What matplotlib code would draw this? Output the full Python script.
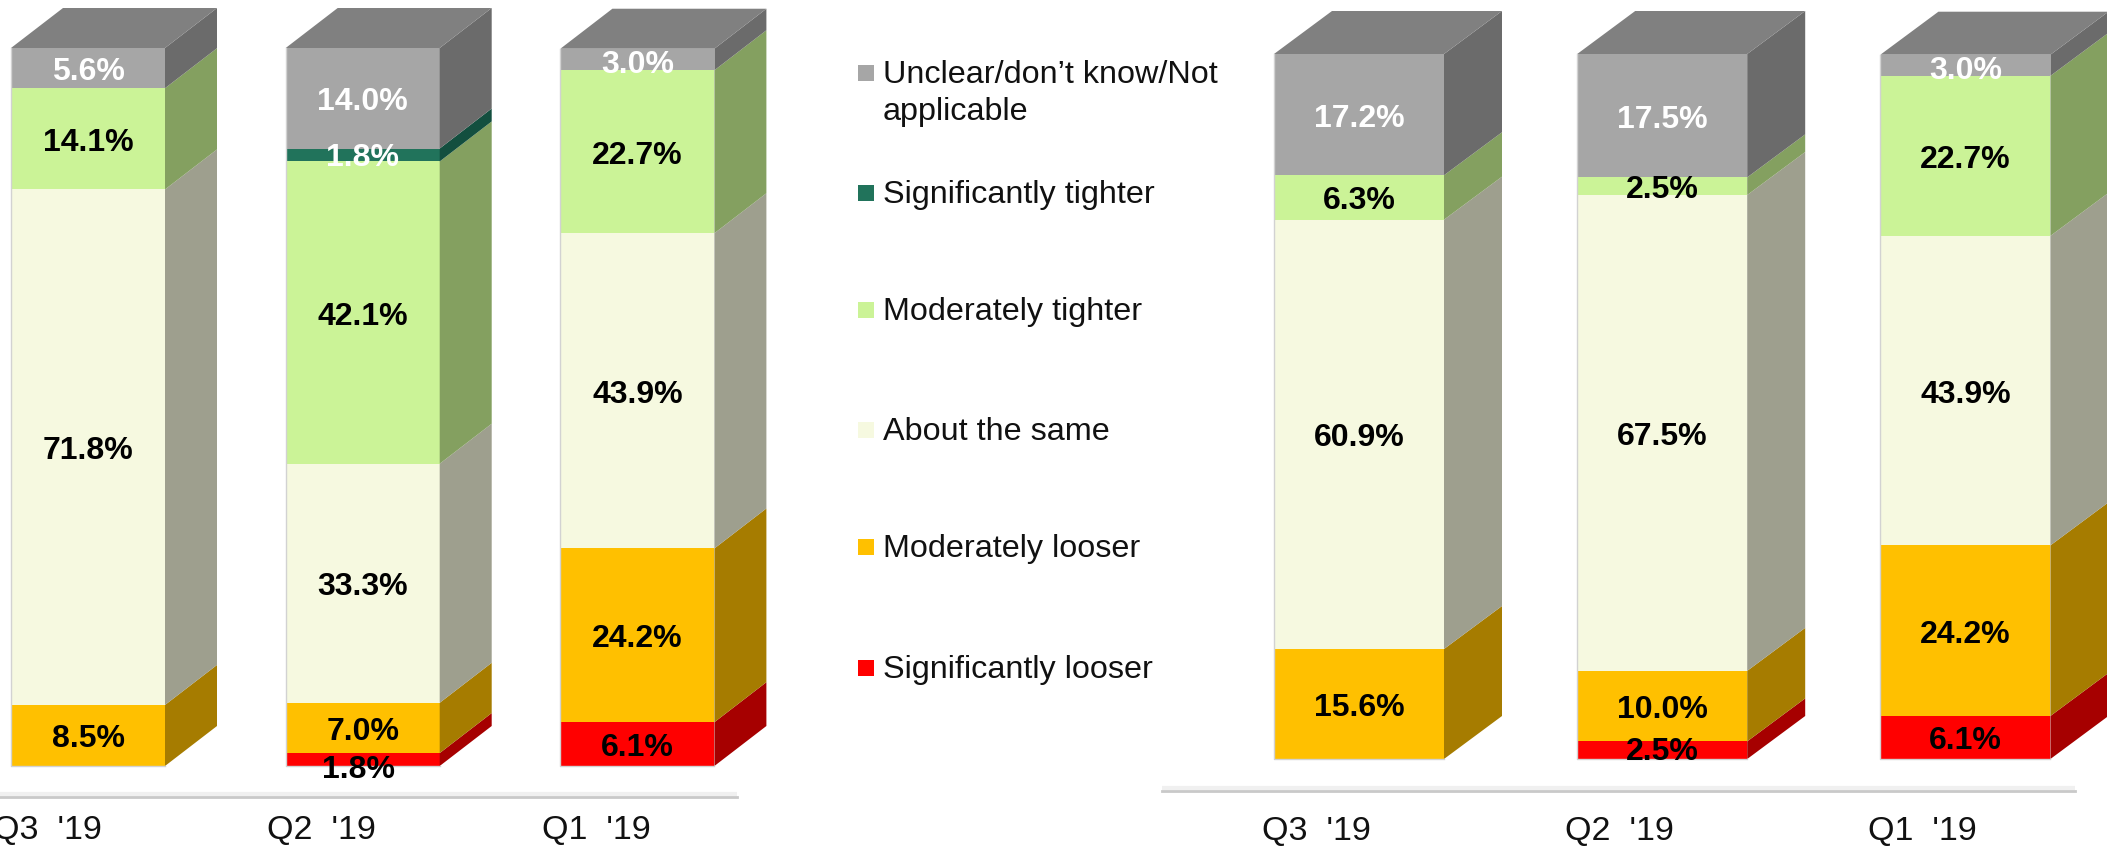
import matplotlib
matplotlib.use('Agg')
import matplotlib.pyplot as plt
from matplotlib.patches import Rectangle

plt.rcParams['font.family'] = ['Liberation Sans', 'DejaVu Sans']

W = 2107
H = 847

quarters = ["Q3  '19", "Q2  '19", "Q1  '19"]

# stacked from the bottom up
series = ['Significantly looser', 'Moderately looser', 'About the same',
          'Moderately tighter', 'Significantly tighter', 'Unclear/don\u2019t know/Not\napplicable']

left_values = [
    [0, 1.8, 6.1],
    [8.5, 7.0, 24.2],
    [71.8, 33.3, 43.9],
    [14.1, 42.1, 22.7],
    [0, 1.8, 0],
    [5.6, 14.0, 3.0],
]
right_values = [
    [0, 2.5, 6.1],
    [15.6, 10.0, 24.2],
    [60.9, 67.5, 43.9],
    [6.3, 2.5, 22.7],
    [0, 0, 0],
    [17.2, 17.5, 3.0],
]

front_colors = ['#FF0000', '#FFC000', '#F6F9E0', '#CBF397', '#21735B', '#A6A6A6']
side_colors = ['#A60000', '#A67C00', '#9E9F8E', '#84A060', '#134F3F', '#6B6B6B']
top_color = '#808080'
label_colors = ['black', 'black', 'black', 'black', 'white', 'white']


def draw_chart(values, ax_left, ax_right, first_center, spacing, bar_w, bottom_px, top_px,
               dx_px, dy_px, line_y, line_from, line_to, tick_shift, tick_pad, nudges):
    ax = fig.add_axes([ax_left / W, 0, (ax_right - ax_left) / W, 1])
    unit = (bottom_px - top_px) / 100.0
    ax.set_xlim((ax_left - first_center) / spacing, (ax_right - first_center) / spacing)
    ax.set_ylim((bottom_px - H) / unit, bottom_px / unit)
    ax.patch.set_visible(False)
    width = bar_w / spacing
    dx = dx_px / spacing
    dy = dy_px / unit

    for i in range(len(quarters)):
        base = 0
        l = i - width / 2
        r = i + width / 2
        for s in range(len(series)):
            v = values[s][i]
            if v == 0:
                continue
            ax.bar(i, v, width, bottom=base, color=front_colors[s], linewidth=0)
            ax.fill([r, r + dx, r + dx, r],
                    [base, base + dy, base + v + dy, base + v],
                    color=side_colors[s], linewidth=0)
            base += v
        ax.fill([l, l + dx, r + dx, r], [base, base + dy, base + dy, base],
                color=top_color, linewidth=0)
        ax.plot([l, l, r], [base, 0, 0], color='#d2d2d2', lw=1)

        base = 0
        for s in range(len(series)):
            v = values[s][i]
            if v == 0:
                continue
            nx, ny = nudges.get((s, i), (0, 4))
            ax.text(i + nx / spacing, base + v / 2 - ny / unit, '%.1f%%' % v,
                    ha='center', va='center', fontsize=23, fontweight='bold',
                    color=label_colors[s])
            base += v

    # axis line with its soft shadow
    line_val = (bottom_px - line_y) / unit
    a = (line_from - first_center) / spacing
    b = (line_to - first_center) / spacing
    ax.plot([a, b], [line_val + 3 / unit, line_val + 3 / unit], color='#f0f0f0', lw=3, solid_capstyle='butt')
    ax.spines[['top', 'left', 'right']].set_visible(False)
    ax.spines['bottom'].set_position(('data', line_val))
    ax.spines['bottom'].set_bounds(a, b)
    ax.spines['bottom'].set_color('#c9c9c9')
    ax.spines['bottom'].set_linewidth(2)
    ax.set_yticks([])
    ax.set_xticks([i + tick_shift / spacing for i in range(len(quarters))])
    ax.set_xticklabels(quarters, fontsize=24.5)
    ax.tick_params(axis='x', length=0, pad=tick_pad, colors='#111111')
    return ax


fig = plt.figure(figsize=(W / 100, H / 100), dpi=100)

draw_chart(left_values, 0, 800, 88, 274.7, 154, 766, 48, 52, 40, 797, 0, 737, -41, 13,
           {(0, 1): (-4, 10), (5, 0): (0, 4), (5, 2): (0, 6), (4, 1): (0, 3)})
draw_chart(right_values, 1150, W, 1359, 303.2, 170, 759, 54, 58, 43, 791, 1162, 2075, -43, 18,
           {(5, 2): (0, 6), (0, 1): (0, 2)})

# legend, placed by hand because the gaps are not even
legend_y = [668, 547, 430, 310, 193, 73]
for s in range(len(series)):
    y = legend_y[s]
    fig.add_artist(Rectangle((858 / W, 1 - (y + 8) / H), 16 / W, 16 / H,
                             transform=fig.transFigure, color=front_colors[s], linewidth=0))
    if '\n' in series[s]:
        fig.text(883 / W, 1 - (y - 13) / H, series[s], fontsize=23.3, va='top', ha='left',
                 color='#111111', linespacing=1.3)
    else:
        fig.text(883 / W, 1 - (y + 2) / H, series[s], fontsize=23.3, va='center', ha='left',
                 color='#111111')

fig.savefig('out.png', dpi=100, facecolor='white')
